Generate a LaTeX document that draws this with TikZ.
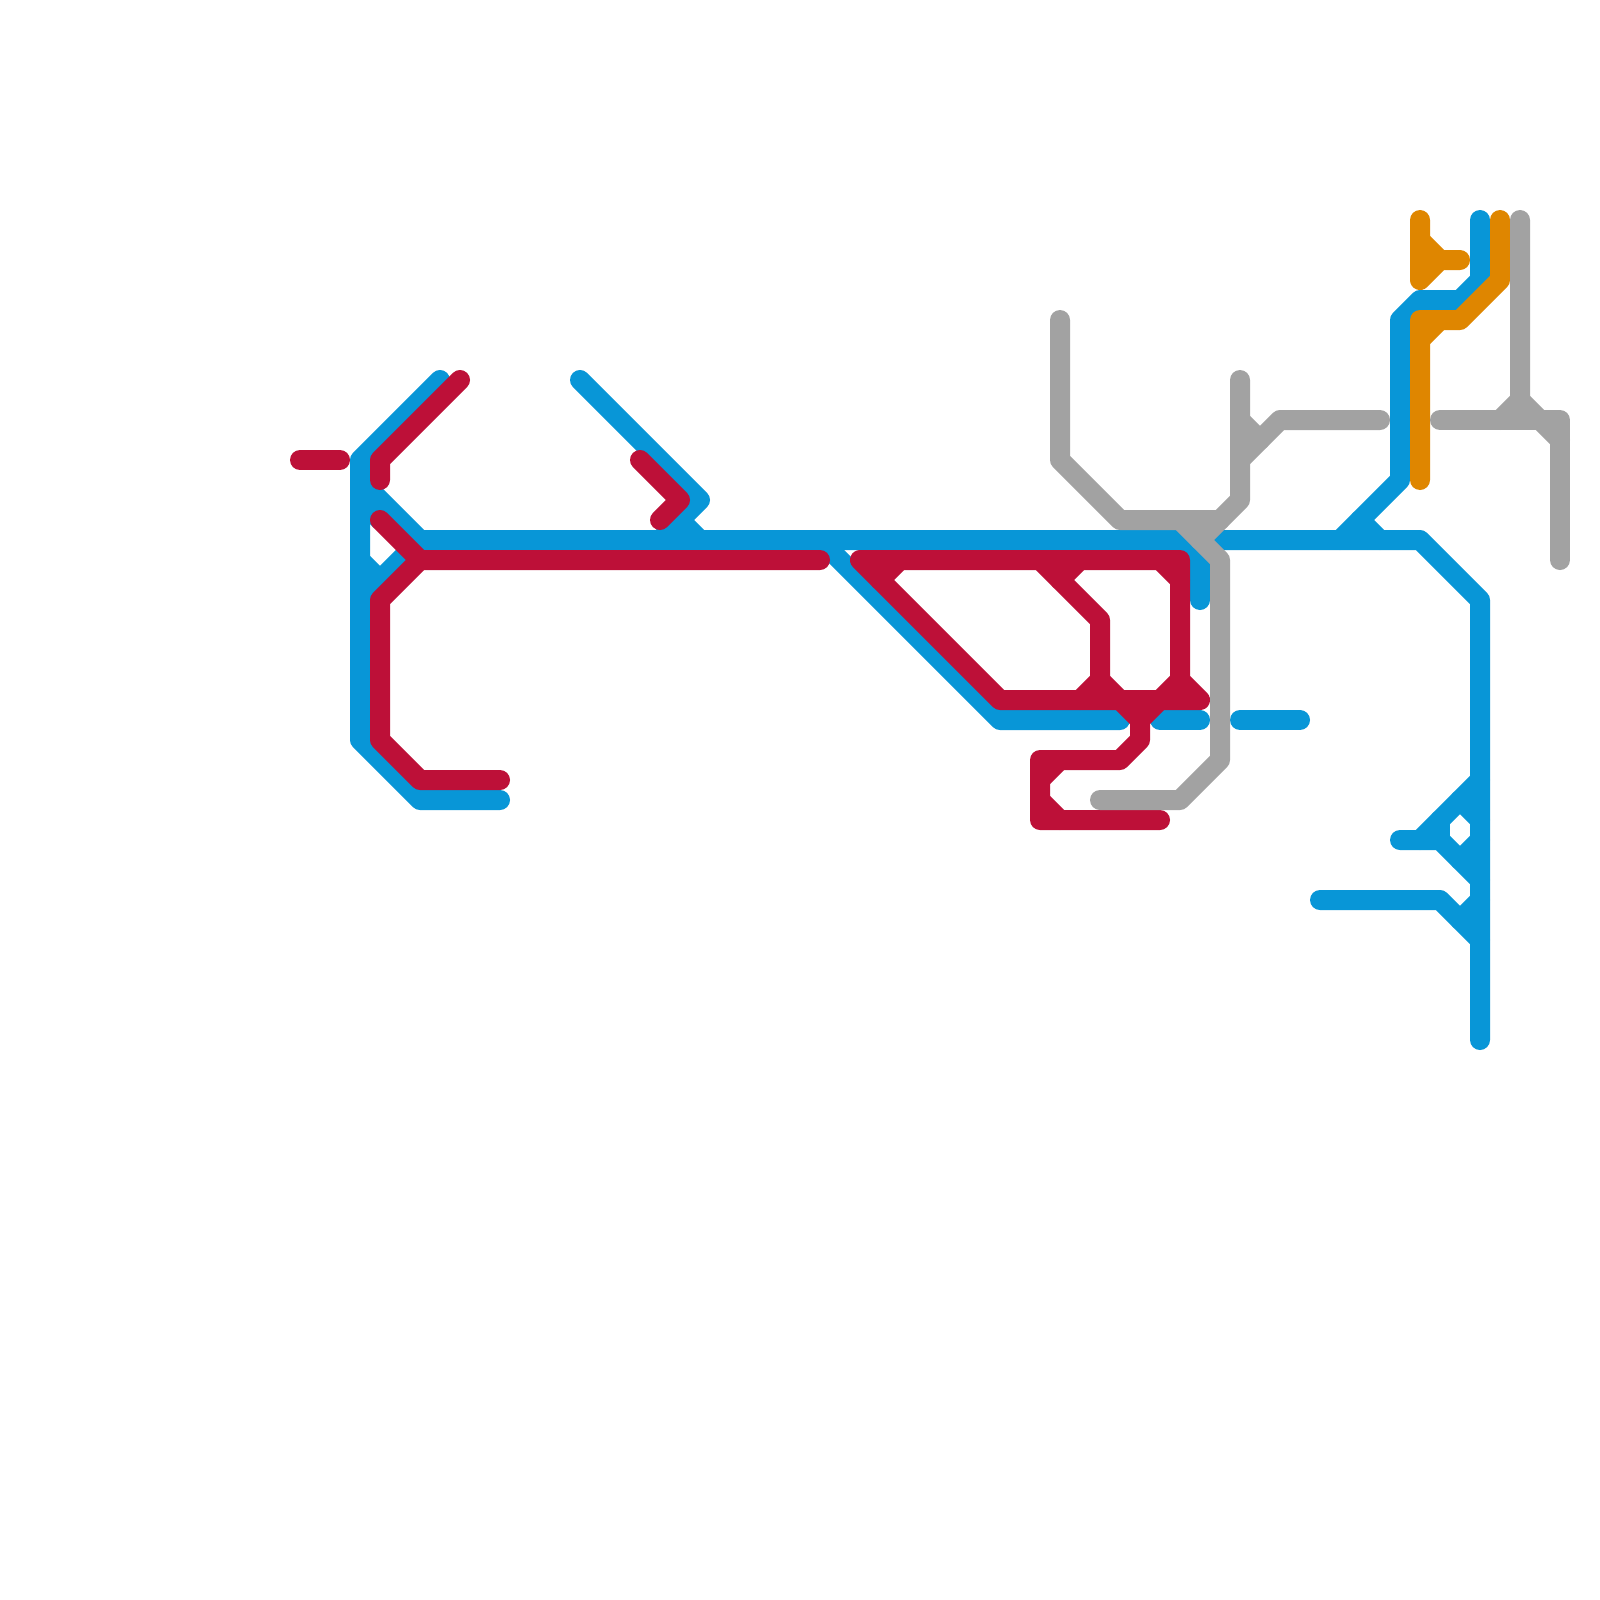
\documentclass[tikz,border=0pt]{standalone}
\definecolor{mblue}{HTML}{0896D7}
\definecolor{mred}{HTML}{BD1038}
\definecolor{morange}{HTML}{DF8600}
\definecolor{mgray}{HTML}{A2A2A2}
\tikzset{
  track/.style={line width=20pt,line cap=round,line join=round},
  blueline/.style={track,draw=mblue},
  redline/.style={track,draw=mred},
  orangeline/.style={track,draw=morange},
  grayline/.style={track,draw=mgray}
}
\begin{document}
\begin{tikzpicture}[x=1pt,y=-1pt]
\fill[white] (0,0) rectangle (1600,1600);
\useasboundingbox (0,0) rectangle (1600,1600);
% blue
\draw[blueline] (440,380) -- (360,460) -- (360,740) -- (420,800) -- (500,800);
\draw[blueline] (360,480) -- (420,540) -- (1420,540) -- (1480,600) -- (1480,1040);
\draw[blueline] (360,500) -- (380,520);
\draw[blueline] (360,600) -- (420,540);
\draw[blueline] (360,560) -- (380,580);
\draw[blueline] (580,380) -- (700,500) -- (660,540);
\draw[blueline] (680,520) -- (700,540);
\draw[blueline] (820,540) -- (1000,720) -- (1120,720);
\draw[blueline] (1160,720) -- (1200,720);
\draw[blueline] (1240,720) -- (1300,720);
\draw[blueline] (1180,540) -- (1200,560) -- (1200,600);
\draw[blueline] (1480,220) -- (1480,280) -- (1460,300) -- (1420,300) -- (1400,320) -- (1400,480) -- (1340,540);
\draw[blueline] (1360,520) -- (1380,540);
\draw[blueline] (1400,840) -- (1440,840) -- (1480,880);
\draw[blueline] (1420,840) -- (1480,780);
\draw[blueline] (1440,820) -- (1440,840);
\draw[blueline] (1460,800) -- (1480,820);
\draw[blueline] (1480,840) -- (1460,860);
\draw[blueline] (1320,900) -- (1440,900) -- (1480,940);
\draw[blueline] (1480,900) -- (1460,920);
% red
\draw[redline] (300,460) -- (340,460);
\draw[redline] (460,380) -- (380,460) -- (380,480);
\draw[redline] (380,520) -- (420,560) -- (820,560);
\draw[redline] (420,560) -- (380,600) -- (380,740) -- (420,780) -- (500,780);
\draw[redline] (640,460) -- (680,500) -- (660,520);
\draw[redline] (880,580) -- (900,560);
\draw[redline] (860,560) -- (1180,560) -- (1180,680) -- (1200,700) -- (1000,700) -- cycle;
\draw[redline] (1160,560) -- (1180,580);
\draw[redline] (1040,560) -- (1100,620) -- (1100,680) -- (1080,700);
\draw[redline] (1060,580) -- (1080,560);
\draw[redline] (1100,680) -- (1140,720);
\draw[redline] (1180,680) -- (1140,720) -- (1140,740) -- (1120,760) -- (1040,760) -- (1040,820) -- (1160,820);
\draw[redline] (1040,780) -- (1060,760);
\draw[redline] (1040,800) -- (1060,820);
% orange
\draw[orangeline] (1420,220) -- (1420,280) -- (1440,260) -- (1460,260);
\draw[orangeline] (1420,240) -- (1440,260);
\draw[orangeline] (1420,480) -- (1420,320) -- (1460,320) -- (1500,280) -- (1500,220);
\draw[orangeline] (1420,340) -- (1440,320);
% gray
\draw[grayline] (1060,320) -- (1060,460) -- (1120,520) -- (1220,520);
\draw[grayline] (1240,380) -- (1240,500) -- (1200,540);
\draw[grayline] (1180,520) -- (1220,560) -- (1220,760) -- (1180,800) -- (1100,800);
\draw[grayline] (1240,460) -- (1280,420) -- (1380,420);
\draw[grayline] (1240,420) -- (1260,440);
\draw[grayline] (1520,220) -- (1520,400) -- (1500,420);
\draw[grayline] (1520,400) -- (1540,420);
\draw[grayline] (1440,420) -- (1560,420) -- (1560,560);
\draw[grayline] (1540,420) -- (1560,440);
\end{tikzpicture}
\end{document}
